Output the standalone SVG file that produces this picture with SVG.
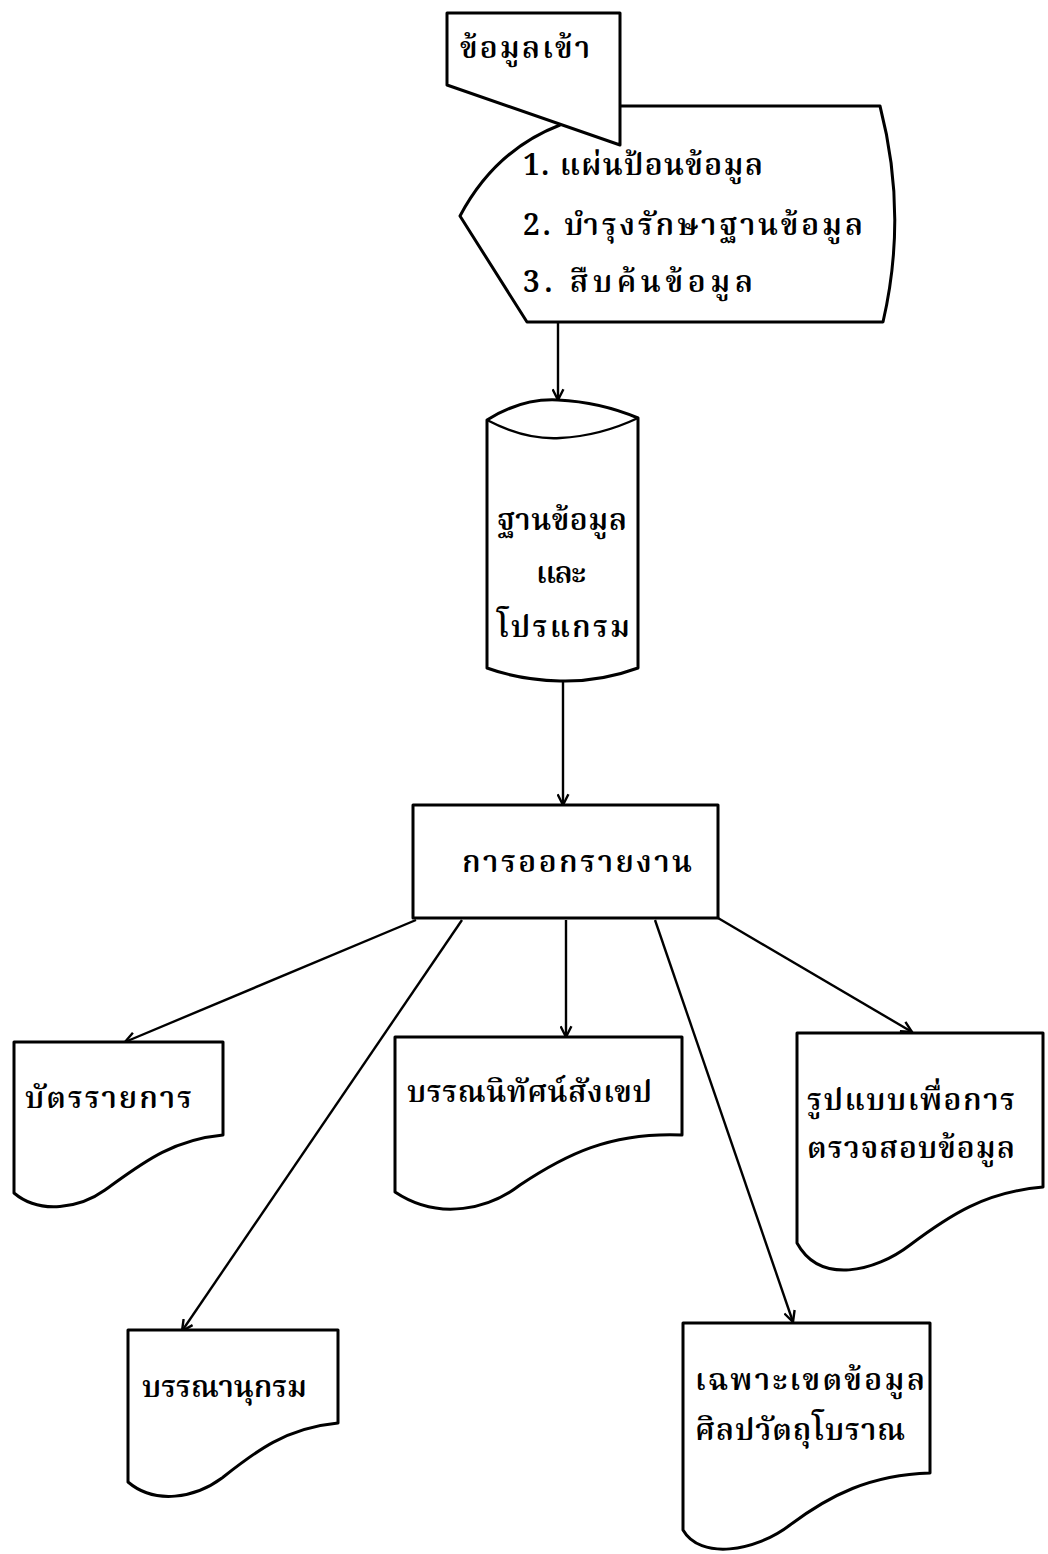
<svg xmlns="http://www.w3.org/2000/svg" width="1048" height="1554" viewBox="0 0 1048 1554">
<defs>
<style>
.s{fill:#fff;stroke:#000;stroke-width:3;stroke-linejoin:round}
.c{fill:none;stroke:#000;stroke-width:2.4}
text{font-family:"Noto Serif Thai","Norasi","Tlwg Typist","Noto Sans Thai Looped","Noto Sans Thai","Loma","Garuda","Noto Sans","DejaVu Sans",sans-serif;font-size:30px;font-weight:600;fill:#000}
</style>
<marker id="a" viewBox="0 0 12 12" refX="11" refY="6" markerWidth="13" markerHeight="13" markerUnits="userSpaceOnUse" orient="auto">
<path d="M1,1 L11,6 L1,11" fill="none" stroke="#000" stroke-width="2.2"/>
</marker>
</defs>
<rect width="1048" height="1554" fill="#fff"/>
<g id="connectors">
<line class="c" x1="558" y1="323" x2="558" y2="400" marker-end="url(#a)"/>
<line class="c" x1="563" y1="680" x2="563" y2="805" marker-end="url(#a)"/>
<line class="c" x1="416" y1="920" x2="125" y2="1042" marker-end="url(#a)"/>
<line class="c" x1="462" y1="920" x2="182" y2="1331" marker-end="url(#a)"/>
<line class="c" x1="566" y1="920" x2="566" y2="1037" marker-end="url(#a)"/>
<line class="c" x1="655" y1="920" x2="793" y2="1322" marker-end="url(#a)"/>
<line class="c" x1="718" y1="918" x2="912" y2="1032" marker-end="url(#a)"/>
</g>
<g id="display">
<path class="s" d="M560,106 H880 Q908,214 883,322 H527 L460,216 Q495,150 560,125 Z"/>
<text x="523" y="175" textLength="240" lengthAdjust="spacing">1. แผ่นป้อนข้อมูล</text>
<text x="523" y="235" textLength="340" lengthAdjust="spacing">2. บำรุงรักษาฐานข้อมูล</text>
<text x="523" y="292" textLength="230" lengthAdjust="spacing">3. สืบค้นข้อมูล</text>
</g>
<g id="input">
<path class="s" d="M447,13 H620 V145 L447,85 Z"/>
<text x="460" y="58" textLength="130" lengthAdjust="spacing">ข้อมูลเข้า</text>
</g>
<g id="database">
<path class="s" d="M487,420 Q522,398 558,400 Q600,402 638,418 V668 Q600,682 560,681 Q520,680 487,668 Z"/>
<path class="c" d="M487,420 Q525,440 560,438 Q600,436 638,418"/>
<text x="497" y="530" textLength="130" lengthAdjust="spacing">ฐานข้อมูล</text>
<text x="536" y="583" textLength="50" lengthAdjust="spacing">และ</text>
<text x="497" y="637" textLength="133" lengthAdjust="spacing">โปรแกรม</text>
</g>
<g id="report">
<rect class="s" x="413" y="805" width="305" height="113"/>
<text x="462" y="872" textLength="230" lengthAdjust="spacing">การออกรายงาน</text>
</g>
<g id="doc1">
<path class="s" d="M14,1042 H223 V1135 C170,1140 140,1165 105,1190 C80,1208 40,1215 14,1193 Z"/>
<text x="25" y="1108" textLength="167" lengthAdjust="spacing">บัตรรายการ</text>
</g>
<g id="doc2">
<path class="s" d="M128,1330 H338 V1423 C285,1428 255,1452 222,1478 C195,1498 155,1505 128,1482 Z"/>
<text x="142" y="1397" textLength="165" lengthAdjust="spacing">บรรณานุกรม</text>
</g>
<g id="doc3">
<path class="s" d="M395,1037 H682 V1135 C610,1132 565,1155 520,1185 C490,1208 440,1222 395,1192 Z"/>
<text x="407" y="1102" textLength="245" lengthAdjust="spacing">บรรณนิทัศน์สังเขป</text>
</g>
<g id="doc4">
<path class="s" d="M797,1033 H1043 V1187 C985,1192 950,1215 910,1245 C875,1272 820,1285 797,1243 Z"/>
<text x="807" y="1110" textLength="208" lengthAdjust="spacing">รูปแบบเพื่อการ</text>
<text x="807" y="1158" textLength="208" lengthAdjust="spacing">ตรวจสอบข้อมูล</text>
</g>
<g id="doc5">
<path class="s" d="M683,1323 H930 V1473 C870,1475 830,1495 790,1525 C755,1552 700,1560 683,1530 Z"/>
<text x="695" y="1390" textLength="230" lengthAdjust="spacing">เฉพาะเขตข้อมูล</text>
<text x="695" y="1440" textLength="210" lengthAdjust="spacing">ศิลปวัตถุโบราณ</text>
</g>
</svg>
